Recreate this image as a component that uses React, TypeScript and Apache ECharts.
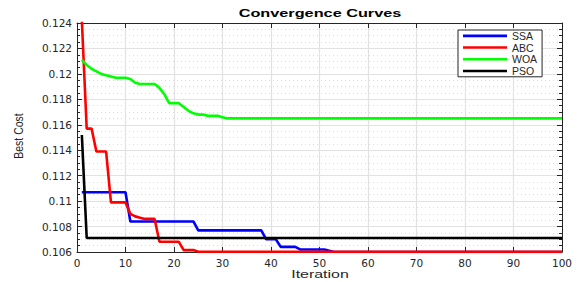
import React, { useEffect, useRef } from "react";
import * as echarts from "echarts";

const seriesNames = ["SSA", "ABC", "WOA", "PSO"];
const seriesColors = ["#0000ff", "#ff0000", "#00ff00", "#000000"];

const xTickMin = 0;
const xTickMax = 100;
const xTickStep = 10;
const yTickMin = 0.106;
const yTickMax = 0.124;
const yTickStep = 0.002;

const ssa = [
  0.1107, 0.1107, 0.1107, 0.1107, 0.1107, 0.1107, 0.1107, 0.1107, 0.1107, 0.1107,
  0.1084, 0.1084, 0.1084, 0.1084, 0.1084, 0.1084, 0.1084, 0.1084, 0.1084, 0.1084,
  0.1084, 0.1084, 0.1084, 0.1084, 0.1077, 0.1077, 0.1077, 0.1077, 0.1077, 0.1077,
  0.1077, 0.1077, 0.1077, 0.1077, 0.1077, 0.1077, 0.1077, 0.1077, 0.107, 0.107,
  0.107, 0.1064, 0.1064, 0.1064, 0.1064, 0.1062, 0.1062, 0.1062, 0.1062, 0.1062,
  0.1062, 0.1061, 0.106, 0.106, 0.106, 0.106, 0.106, 0.106, 0.106, 0.106,
  0.106, 0.106, 0.106, 0.106, 0.106, 0.106, 0.106, 0.106, 0.106, 0.106,
  0.106, 0.106, 0.106, 0.106, 0.106, 0.106, 0.106, 0.106, 0.106, 0.106,
  0.106, 0.106, 0.106, 0.106, 0.106, 0.106, 0.106, 0.106, 0.106, 0.106,
  0.106, 0.106, 0.106, 0.106, 0.106, 0.106, 0.106, 0.106, 0.106, 0.106,
];

const abc = [
  0.1242, 0.1157, 0.1157, 0.1139, 0.1139, 0.1139, 0.1099, 0.1099, 0.1099, 0.1099,
  0.109, 0.1088, 0.1087, 0.1086, 0.1086, 0.1086, 0.1068, 0.1068, 0.1068, 0.1068,
  0.1068, 0.10615, 0.10615, 0.10615, 0.10602, 0.10602, 0.10602, 0.10602, 0.10602, 0.10602,
  0.10602, 0.10602, 0.10602, 0.10602, 0.10602, 0.10602, 0.10602, 0.10602, 0.10602, 0.10602,
  0.10602, 0.10602, 0.10602, 0.10602, 0.10602, 0.10602, 0.10602, 0.10602, 0.10602, 0.10602,
  0.10602, 0.10602, 0.10602, 0.10602, 0.10602, 0.10602, 0.10602, 0.10602, 0.10602, 0.10602,
  0.10602, 0.10602, 0.10602, 0.10602, 0.10602, 0.10602, 0.10602, 0.10602, 0.10602, 0.10602,
  0.10602, 0.10602, 0.10602, 0.10602, 0.10602, 0.10602, 0.10602, 0.10602, 0.10602, 0.10602,
  0.10602, 0.10602, 0.10602, 0.10602, 0.10602, 0.10602, 0.10602, 0.10602, 0.10602, 0.10602,
  0.10602, 0.10602, 0.10602, 0.10602, 0.10602, 0.10602, 0.10602, 0.10602, 0.10602, 0.10602,
];

const woa = [
  0.1211, 0.1207, 0.1204, 0.1202, 0.12, 0.1199, 0.1198, 0.1197, 0.1197, 0.1197,
  0.1196, 0.1193, 0.1192, 0.1192, 0.1192, 0.1192, 0.1189, 0.1184, 0.1177, 0.1177,
  0.1177, 0.1174, 0.1171, 0.1169, 0.1168, 0.1168, 0.1167, 0.1167, 0.1167, 0.1166,
  0.1165, 0.1165, 0.1165, 0.1165, 0.1165, 0.1165, 0.1165, 0.1165, 0.1165, 0.1165,
  0.1165, 0.1165, 0.1165, 0.1165, 0.1165, 0.1165, 0.1165, 0.1165, 0.1165, 0.1165,
  0.1165, 0.1165, 0.1165, 0.1165, 0.1165, 0.1165, 0.1165, 0.1165, 0.1165, 0.1165,
  0.1165, 0.1165, 0.1165, 0.1165, 0.1165, 0.1165, 0.1165, 0.1165, 0.1165, 0.1165,
  0.1165, 0.1165, 0.1165, 0.1165, 0.1165, 0.1165, 0.1165, 0.1165, 0.1165, 0.1165,
  0.1165, 0.1165, 0.1165, 0.1165, 0.1165, 0.1165, 0.1165, 0.1165, 0.1165, 0.1165,
  0.1165, 0.1165, 0.1165, 0.1165, 0.1165, 0.1165, 0.1165, 0.1165, 0.1165, 0.1165,
];

const pso = [
  0.1152, 0.1071, 0.1071, 0.1071, 0.1071, 0.1071, 0.1071, 0.1071, 0.1071, 0.1071,
  0.1071, 0.1071, 0.1071, 0.1071, 0.1071, 0.1071, 0.1071, 0.1071, 0.1071, 0.1071,
  0.1071, 0.1071, 0.1071, 0.1071, 0.1071, 0.1071, 0.1071, 0.1071, 0.1071, 0.1071,
  0.1071, 0.1071, 0.1071, 0.1071, 0.1071, 0.1071, 0.1071, 0.1071, 0.1071, 0.1071,
  0.1071, 0.1071, 0.1071, 0.1071, 0.1071, 0.1071, 0.1071, 0.1071, 0.1071, 0.1071,
  0.1071, 0.1071, 0.1071, 0.1071, 0.1071, 0.1071, 0.1071, 0.1071, 0.1071, 0.1071,
  0.1071, 0.1071, 0.1071, 0.1071, 0.1071, 0.1071, 0.1071, 0.1071, 0.1071, 0.1071,
  0.1071, 0.1071, 0.1071, 0.1071, 0.1071, 0.1071, 0.1071, 0.1071, 0.1071, 0.1071,
  0.1071, 0.1071, 0.1071, 0.1071, 0.1071, 0.1071, 0.1071, 0.1071, 0.1071, 0.1071,
  0.1071, 0.1071, 0.1071, 0.1071, 0.1071, 0.1071, 0.1071, 0.1071, 0.1071, 0.1071,
];

const allSeries = [ssa, abc, woa, pso];

const AXIS = "#262626";
const GRID = "#e2e2e2";

export default function App() {
  const ref = useRef<HTMLDivElement>(null);
  useEffect(() => {
    if (!ref.current) return;
    const chart = echarts.init(ref.current, undefined, { renderer: "svg" });
    const labelStyle = {
      color: AXIS,
      fontFamily: "DejaVu Sans",
      fontSize: 10.5,
    };
    const xBase = {
      type: "value" as const,
      min: xTickMin,
      max: xTickMax,
      interval: xTickStep,
      axisLine: { show: true, onZero: false, lineStyle: { color: AXIS, width: 1 } },
      axisTick: { show: true, inside: true, length: 5, lineStyle: { color: AXIS } },
    };
    const yBase = {
      type: "value" as const,
      min: yTickMin,
      max: yTickMax,
      interval: yTickStep,
      axisLine: { show: true, onZero: false, lineStyle: { color: AXIS, width: 1 } },
      axisTick: { show: true, inside: true, length: 5, lineStyle: { color: AXIS } },
      minorTick: { show: true, splitNumber: 4, length: 3, lineStyle: { color: AXIS } },
    };
    chart.setOption({
      animation: false,
      backgroundColor: "#ffffff",
      grid: { left: 77, right: 18, top: 23, bottom: 30, containLabel: false },
      xAxis: [
        {
          ...xBase,
          position: "bottom",
          axisLabel: { ...labelStyle, margin: 5 },
          splitLine: { show: true, lineStyle: { color: GRID, width: 1.2 } },
        },
        {
          ...xBase,
          position: "top",
          axisLabel: { show: false },
          splitLine: { show: false },
        },
      ],
      yAxis: [
        {
          ...yBase,
          position: "left",
          axisLabel: {
            ...labelStyle,
            margin: 5,
            formatter: (v: number) => String(+v.toFixed(3)),
          },
          splitLine: { show: true, lineStyle: { color: GRID, width: 1.2 } },
          minorSplitLine: {
            show: true,
            lineStyle: { color: "#d4d4d4", width: 0.8, type: [1, 3] },
          },
        },
        {
          ...yBase,
          position: "right",
          axisLabel: { show: false },
          splitLine: { show: false },
          minorSplitLine: { show: false },
        },
      ],
      legend: {
        orient: "vertical",
        left: 458,
        top: 30,
        padding: [0, 5, 0, 5],
        icon: "rect",
        itemWidth: 44,
        itemHeight: 2.6,
        itemGap: 0,
        borderColor: AXIS,
        borderWidth: 1,
        borderRadius: 0,
        backgroundColor: "#ffffff",
        textStyle: {
          color: AXIS,
          fontFamily: "Liberation Sans",
          fontSize: 10.5,
          lineHeight: 11.7,
          padding: [0, 0, 0, 0],
        },
        data: seriesNames,
      },
      graphic: [
        {
          type: "text",
          x: 320,
          y: 13.5,
          scaleX: 1.48,
          style: {
            text: "Convergence Curves",
            font: 'bold 11px "Liberation Sans"',
            fill: "#000000",
            align: "center",
            verticalAlign: "middle",
          },
        },
        {
          type: "text",
          x: 320,
          y: 274,
          scaleX: 1.45,
          style: {
            text: "Iteration",
            font: '11px "Liberation Sans"',
            fill: AXIS,
            align: "center",
            verticalAlign: "middle",
          },
        },
        {
          type: "text",
          x: 19,
          y: 136,
          rotation: Math.PI / 2,
          scaleY: 1.2,
          style: {
            text: "Best Cost",
            font: '10.5px "Liberation Sans"',
            fill: AXIS,
            align: "center",
            verticalAlign: "middle",
          },
        },
      ],
      series: allSeries.map((vals, i) => ({
        name: seriesNames[i],
        type: "line",
        xAxisIndex: 0,
        yAxisIndex: 0,
        data: vals.map((v, k) => [k + 1, v]),
        symbol: "none",
        showSymbol: false,
        clip: true,
        lineStyle: { color: seriesColors[i], width: 2.6 },
        itemStyle: { color: seriesColors[i] },
        z: 2 + i,
      })),
    });
    return () => chart.dispose();
  }, []);
  return (
    <div
      ref={ref}
      style={{ position: "absolute", left: 0, top: 0, width: 580, height: 282 }}
    />
  );
}
